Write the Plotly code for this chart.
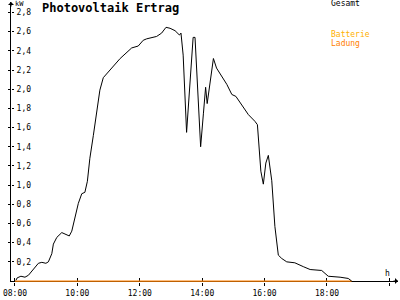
import plotly.graph_objects as go

# Gesamt (total) PV output, hours of day vs kW
hours = [8.03, 8.07, 8.19, 8.32, 8.43, 8.59, 8.75, 8.86, 8.99, 9.07, 9.18, 9.23, 9.34, 9.50, 9.60,
         9.74, 9.82, 9.92, 10.03, 10.14, 10.24, 10.32, 10.40, 10.51, 10.62, 10.72, 10.83, 11.10,
         11.37, 11.74, 11.95, 12.11, 12.22, 12.54, 12.70, 12.84, 12.97, 13.13, 13.27, 13.32, 13.39,
         13.50, 13.58, 13.66, 13.71, 13.77, 13.86, 13.95, 14.04, 14.11, 14.16, 14.25, 14.36, 14.46,
         14.62, 14.79, 14.95, 15.08, 15.27, 15.48, 15.69, 15.77, 15.88, 15.96, 16.04, 16.12, 16.23,
         16.33, 16.44, 16.55, 16.71, 16.97, 17.24, 17.46, 17.83, 18.04, 18.42, 18.68, 18.79]
gesamt = [0.007, 0.033, 0.05, 0.04, 0.06, 0.12, 0.185, 0.195, 0.185, 0.20, 0.285, 0.385, 0.455, 0.505,
          0.49, 0.47, 0.52, 0.67, 0.81, 0.91, 0.925, 1.04, 1.28, 1.515, 1.75, 1.99, 2.12, 2.22,
          2.32, 2.43, 2.45, 2.51, 2.525, 2.55, 2.585, 2.645, 2.635, 2.61, 2.565, 2.585, 2.355,
          1.55, 1.95, 2.39, 2.54, 2.54, 1.95, 1.40, 1.75, 2.02, 1.85, 2.05, 2.32, 2.22,
          2.14, 2.05, 1.945, 1.925, 1.835, 1.735, 1.665, 1.63, 1.145, 1.01, 1.23, 1.31, 1.045,
          0.57, 0.27, 0.235, 0.20, 0.19, 0.15, 0.12, 0.11, 0.05, 0.04, 0.027, 0.0]

# Batterie Ladung (charging) - zero over the day
ladung_hours = [8.0, 18.79]
ladung = [0.0, 0.0]

x_tickvals = [8, 10, 12, 14, 16, 18, 20]
x_ticktext = ["08:00", "10:00", "12:00", "14:00", "16:00", "18:00", "20:00"]
y_tickvals = [0.2, 0.4, 0.6, 0.8, 1.0, 1.2, 1.4, 1.6, 1.8, 2.0, 2.2, 2.4, 2.6, 2.8]

W, H = 400, 300
ML, MR, MT, MB = 11, 2, 2, 9
XR = [7.872, 20.276]
YR = [-0.0101, 2.909]

FONT = "DejaVu Sans Mono"
ORANGE_B = "#FFB000"
ORANGE_L = "#FF8000"

fig = go.Figure()
fig.add_trace(go.Scatter(x=ladung_hours, y=ladung, mode="lines",
                         line=dict(color=ORANGE_L, width=1.2), hoverinfo="skip"))
fig.add_trace(go.Scatter(x=hours, y=gesamt, mode="lines",
                         line=dict(color="black", width=1), hoverinfo="skip"))
# invisible trace to activate the second (tick-crossing / label) axes
fig.add_trace(go.Scatter(x=[XR[0]], y=[YR[0]], xaxis="x2", yaxis="y2", mode="markers",
                         marker=dict(opacity=0), hoverinfo="skip"))

def px2paper(px, py):
    return (px - ML) / (W - ML - MR), (H - MB - py) / (H - MT - MB)

annotations = []
tx, ty = px2paper(40, 8)
annotations.append(dict(text="<b>Photovoltaik Ertrag</b>", x=tx, y=ty, xref="paper", yref="paper",
                        xanchor="left", yanchor="middle", showarrow=False,
                        font=dict(family=FONT, size=12, color="black")))
kx, ky = px2paper(13, 4)
annotations.append(dict(text="kW", x=kx, y=ky, xref="paper", yref="paper", xanchor="left",
                        yanchor="middle", showarrow=False, font=dict(family=FONT, size=7, color="black")))
for txt, py, col in [("Gesamt", 4, "black"), ("Batterie", 36, ORANGE_B), ("Ladung", 44.5, ORANGE_L)]:
    lx, ly = px2paper(329, py)
    annotations.append(dict(text=txt, x=lx, y=ly, xref="paper", yref="paper", xanchor="left",
                            yanchor="middle", showarrow=False, font=dict(family=FONT, size=8, color=col)))
hx, hy = px2paper(387, 282)
annotations.append(dict(text="h", x=hx, y=hy, xref="paper", yref="paper", xanchor="center",
                        yanchor="middle", showarrow=False, font=dict(family=FONT, size=8, color="black")))
# axis arrows
ax0, ay0 = px2paper(398, 290)
annotations.append(dict(x=1, y=ay0, xref="paper", yref="paper", ax=-6, ay=0, axref="pixel", ayref="pixel",
                        text="", showarrow=True, arrowhead=1, arrowsize=1, arrowwidth=1, arrowcolor="black"))
annotations.append(dict(x=0, y=1, xref="paper", yref="paper", ax=0, ay=6, axref="pixel", ayref="pixel",
                        text="", showarrow=True, arrowhead=1, arrowsize=1, arrowwidth=1, arrowcolor="black"))

fig.update_layout(
    width=W, height=H,
    margin=dict(l=ML, r=MR, t=MT, b=MB),
    paper_bgcolor="white", plot_bgcolor="white",
    showlegend=False,
    separators=",.",
    font=dict(family=FONT, size=8, color="black"),
    xaxis=dict(range=XR, tickvals=x_tickvals, ticktext=x_ticktext, showgrid=False, zeroline=False,
               showline=False, ticks="outside", ticklen=3,
               tickcolor="black", tickfont=dict(family=FONT, size=8), ticklabelstandoff=0,
               layer="below traces", anchor="y", fixedrange=True),
    yaxis=dict(range=YR, tickvals=y_tickvals, showticklabels=False, showgrid=False,
               zeroline=True, zerolinecolor="black", zerolinewidth=1,
               showline=True, linecolor="black", linewidth=1, ticks="outside", ticklen=2,
               tickcolor="black", layer="below traces", anchor="x", fixedrange=True),
    xaxis2=dict(range=XR, tickvals=x_tickvals, showticklabels=False, showgrid=False, zeroline=False,
                overlaying="x", anchor="free", position=0, side="top", ticks="outside", ticklen=4,
                tickcolor="black", showline=False, layer="below traces", fixedrange=True),
    yaxis2=dict(range=YR, tickvals=y_tickvals, tickformat=".1f", showgrid=False, zeroline=False,
                overlaying="y", anchor="free", position=0, side="right", ticks="outside", ticklen=2,
                tickcolor="black", showline=False, tickfont=dict(family=FONT, size=8),
                ticklabelstandoff=1, layer="below traces", fixedrange=True),
    annotations=annotations,
)

fig.write_html("out.html")
